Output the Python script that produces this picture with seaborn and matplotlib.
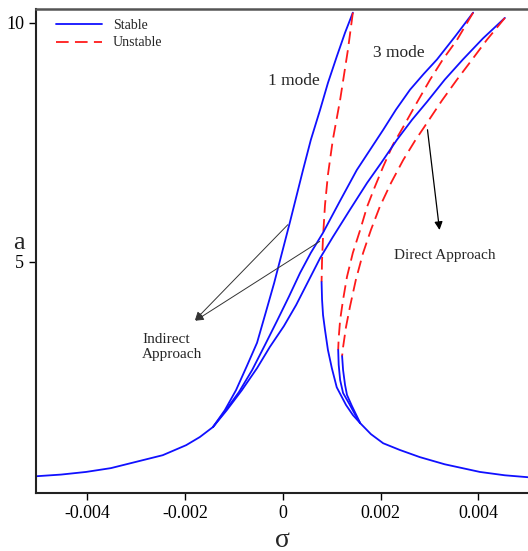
import numpy as np
import pandas as pd
import matplotlib
matplotlib.use('Agg')
import matplotlib.pyplot as plt
from matplotlib.lines import Line2D
import seaborn as sns

# values (sigma, a)
tail_left_sigma = [-0.00505, -0.00454, -0.00403, -0.00352, -0.00301, -0.00246, -0.00198, -0.00170, -0.00143]
tail_left_a = [0.52, 0.555, 0.61, 0.69, 0.82, 0.96, 1.17, 1.34, 1.55]

tail_right_sigma = [0.00158, 0.00180, 0.00205, 0.00239, 0.00280, 0.00331, 0.00403, 0.00454, 0.00501]
tail_right_a = [1.63, 1.40, 1.21, 1.07, 0.92, 0.77, 0.61, 0.54, 0.50]

# 1 mode
m1_up_sigma = [-0.00143, -0.00119, -0.00096, -0.00074, -0.00053, -0.00035, -0.00018, -0.00002, 0.00014,
               0.00041, 0.00057, 0.00076, 0.00092, 0.00110, 0.00127, 0.00143]
m1_up_a = [1.55, 1.90, 2.32, 2.82, 3.31, 3.95, 4.56, 5.19, 5.82,
           6.92, 7.55, 8.18, 8.74, 9.29, 9.79, 10.21]
m1_mid_sigma = [0.00143, 0.00133, 0.00117, 0.00102, 0.00092, 0.00086, 0.00082, 0.00080, 0.00079]
m1_mid_a = [10.21, 9.44, 8.39, 7.55, 6.82, 6.19, 5.52, 5.04, 4.58]
m1_low_sigma = [0.00079, 0.00080, 0.00082, 0.00086, 0.00092, 0.00100, 0.00110, 0.00129, 0.00143, 0.00158]
m1_low_a = [4.58, 4.21, 3.89, 3.58, 3.16, 2.78, 2.38, 2.01, 1.80, 1.63]

# 3 mode, first curve
m3a_up_sigma = [-0.00143, -0.00117, -0.00090, -0.00063, -0.00037, -0.00012, 0.00012, 0.00035, 0.00057,
                0.00082, 0.00117, 0.00151, 0.00178, 0.00205, 0.00231, 0.00260, 0.00288, 0.00315,
                0.00352, 0.00389]
m3a_up_a = [1.55, 1.90, 2.28, 2.74, 3.26, 3.77, 4.27, 4.77, 5.19,
            5.61, 6.28, 6.92, 7.34, 7.76, 8.18, 8.60, 8.93, 9.23,
            9.71, 10.21]
m3a_mid_sigma = [0.00389, 0.00356, 0.00327, 0.00301, 0.00274, 0.00246, 0.00225, 0.00205, 0.00188,
                 0.00172, 0.00158, 0.00143, 0.00131, 0.00123, 0.00117, 0.00114, 0.00113]
m3a_mid_a = [10.21, 9.64, 9.23, 8.81, 8.33, 7.82, 7.45, 6.99, 6.57,
             6.15, 5.67, 5.19, 4.69, 4.21, 3.79, 3.41, 3.16]
m3a_low_sigma = [0.00113, 0.00114, 0.00117, 0.00123, 0.00137, 0.00147, 0.00158]
m3a_low_a = [3.16, 2.85, 2.53, 2.26, 2.01, 1.82, 1.63]

# 3 mode, second curve
m3b_up_sigma = [-0.00143, -0.00115, -0.00084, -0.00053, -0.00027, 0.00002, 0.00027, 0.00051, 0.00076,
                0.00102, 0.00137, 0.00172, 0.00201, 0.00233, 0.00264, 0.00295, 0.00331, 0.00368,
                0.00409, 0.00454]
m3b_up_a = [1.55, 1.90, 2.32, 2.78, 3.22, 3.66, 4.10, 4.58, 5.08,
            5.52, 6.09, 6.65, 7.07, 7.55, 7.97, 8.35, 8.81, 9.23,
            9.67, 10.10]
m3b_mid_sigma = [0.00454, 0.00417, 0.00387, 0.00356, 0.00325, 0.00295, 0.00270, 0.00246, 0.00221,
                 0.00198, 0.00180, 0.00164, 0.00149, 0.00137, 0.00129, 0.00123, 0.00121]
m3b_mid_a = [10.10, 9.64, 9.23, 8.81, 8.37, 7.91, 7.53, 7.13, 6.65,
             6.15, 5.67, 5.19, 4.62, 4.06, 3.64, 3.22, 3.03]
m3b_low_sigma = [0.00121, 0.00123, 0.00127, 0.00131, 0.00141, 0.00151, 0.00158]
m3b_low_a = [3.03, 2.74, 2.43, 2.22, 1.99, 1.78, 1.63]

x_ticks = [-0.004, -0.002, 0, 0.002, 0.004]
x_tick_labels = ['-0.004', '-0.002', '0', '0.002', '0.004']
y_ticks = [5, 10]

branches = [
    ('tail_l', 'Stable', tail_left_sigma, tail_left_a),
    ('tail_r', 'Stable', tail_right_sigma, tail_right_a),
    ('m1_up', 'Stable', m1_up_sigma, m1_up_a),
    ('m1_mid', 'Unstable', m1_mid_sigma, m1_mid_a),
    ('m1_low', 'Stable', m1_low_sigma, m1_low_a),
    ('m3a_up', 'Stable', m3a_up_sigma, m3a_up_a),
    ('m3a_mid', 'Unstable', m3a_mid_sigma, m3a_mid_a),
    ('m3a_low', 'Stable', m3a_low_sigma, m3a_low_a),
    ('m3b_up', 'Stable', m3b_up_sigma, m3b_up_a),
    ('m3b_mid', 'Unstable', m3b_mid_sigma, m3b_mid_a),
    ('m3b_low', 'Stable', m3b_low_sigma, m3b_low_a),
]

rows = []
for name, kind, xs, ys in branches:
    for i, (x, y) in enumerate(zip(xs, ys)):
        rows.append({'branch': name, 'kind': kind, 'order': i, 'sigma': x, 'a': y})
df = pd.DataFrame(rows)

sns.set_style('ticks')
plt.rcParams['font.family'] = ['Liberation Serif', 'DejaVu Serif']

fig = plt.figure(figsize=(5.28, 5.51), dpi=100)
ax = fig.add_axes([0.068, 0.105, 0.932, 0.879])

colors = {'Stable': '#1010ff', 'Unstable': '#ff1a1a'}
dash = (0, (7, 3.5))
for name, kind, xs, ys in branches:
    sub = df[df['branch'] == name]
    sns.lineplot(data=sub, x='sigma', y='a', sort=False, estimator=None, ax=ax,
                 color=colors[kind], lw=1.3, legend=False,
                 linestyle='-' if kind == 'Stable' else dash)

# legend
handles = [Line2D([], [], color=colors['Stable'], lw=1.3),
           Line2D([], [], color=colors['Unstable'], lw=1.3, linestyle=dash)]
ax.legend(handles, ['Stable', 'Unstable'], loc='upper left', frameon=False,
          fontsize=10, handlelength=3.3, borderaxespad=0.35, labelspacing=0.3,
          bbox_to_anchor=(0.02, 1.0))

# annotations
ax.text(0.000225, 8.79, '1 mode', fontsize=12.5, ha='center', va='center')
ax.text(0.00237, 9.37, '3 mode', fontsize=12.5, ha='center', va='center')
ax.text(0.00331, 5.13, 'Direct Approach', fontsize=11, ha='center', va='center')
ax.text(-0.00288, 3.22, 'Indirect\nApproach', fontsize=11, ha='left', va='center', linespacing=1.25)

ax.annotate('', xy=(0.00321, 5.61), xytext=(0.00295, 7.82),
            arrowprops=dict(arrowstyle='-|>', color='black', lw=0.9, mutation_scale=12))
ax.annotate('', xy=(-0.00184, 3.74), xytext=(0.00014, 5.82),
            arrowprops=dict(arrowstyle='-|>', color='#333333', lw=0.7, mutation_scale=12))
ax.annotate('', xy=(-0.00184, 3.74), xytext=(0.00080, 5.46),
            arrowprops=dict(arrowstyle='-|>', color='#333333', lw=0.7, mutation_scale=12))

ax.set_xlim(-0.005054, 0.005013)
ax.set_ylim(0.167, 10.29)
ax.set_xticks(x_ticks)
ax.set_xticklabels(x_tick_labels)
ax.set_yticks(y_ticks)
ax.tick_params(axis='both', labelsize=13, direction='out', length=5, width=1, colors='black')
ax.set_xlabel('σ', fontsize=20, labelpad=4)
ax.set_ylabel('a', fontsize=19, rotation=0, va='center')
ax.yaxis.set_label_coords(-0.035, 0.516)

ax.spines['right'].set_visible(False)
ax.spines['top'].set_color('#555555')
ax.spines['top'].set_linewidth(1.8)
ax.spines['left'].set_linewidth(1.5)
ax.spines['bottom'].set_linewidth(1.5)
ax.spines['left'].set_color('#222222')
ax.spines['bottom'].set_color('#222222')

fig.savefig('out.png', dpi=100)
